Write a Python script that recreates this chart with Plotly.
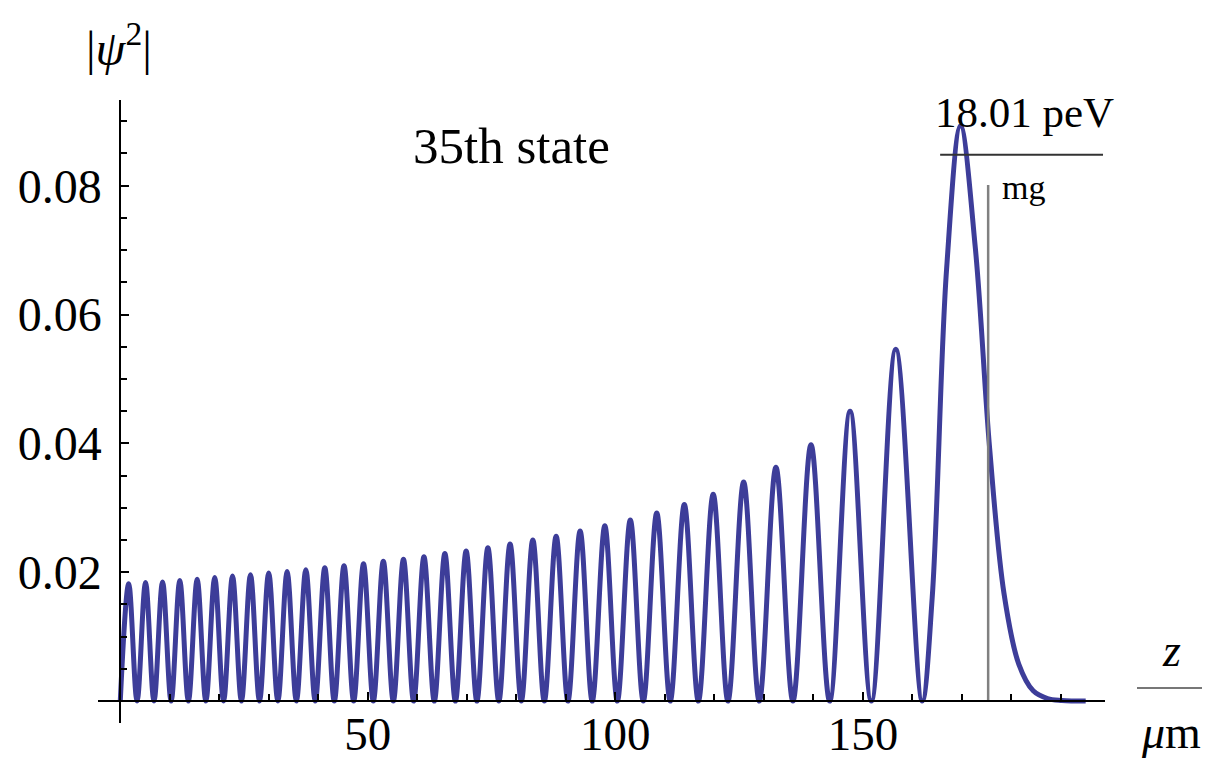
import plotly.graph_objects as go

# Nodes (zeros) of |psi|^2 along z (micrometres)
zeros_z = [0, 3.39, 6.81, 10.27, 13.76, 17.29, 20.86, 24.47, 28.12, 31.83, 35.57,
           39.38, 43.23, 47.14, 51.11, 55.15, 59.25, 63.43, 67.69, 72.03, 76.46,
           81.00, 85.65, 90.42, 95.33, 100.40, 105.64, 111.08, 116.77, 122.74,
           129.07, 135.86, 143.29, 151.70, 161.98]

# Interior maxima (position, height)
peak_z = [1.70, 5.10, 8.54, 12.02, 15.53, 19.08, 22.67, 26.30, 29.98, 33.70,
          37.48, 41.31, 45.19, 49.13, 53.13, 57.20, 61.34, 65.56, 69.86, 74.25,
          78.73, 83.33, 88.04, 92.88, 97.87, 103.02, 108.36, 113.93, 119.76,
          125.91, 132.43, 139.52, 147.41, 156.64]
peak_h = [0.0182, 0.0184, 0.0185, 0.0187, 0.0189, 0.0192, 0.0194, 0.0196, 0.0199,
          0.0201, 0.0204, 0.0207, 0.0210, 0.0213, 0.0217, 0.0220, 0.0224, 0.0229,
          0.0233, 0.0238, 0.0244, 0.0250, 0.0256, 0.0264, 0.0272, 0.0281, 0.0292,
          0.0305, 0.0321, 0.0340, 0.0363, 0.0398, 0.0450, 0.0546]

# Last lobe and evanescent tail (after the last node)
tail_z = [164.0, 166.9, 169.72, 172.7, 175.6, 178.5, 181.5, 184.4, 187.3, 190.2, 195.0]
tail_y = [0.0161, 0.0670, 0.0893, 0.0704, 0.0392, 0.0167, 0.0057, 0.0016, 0.0004, 0.0001, 0.0]

energy_label = "18.01 peV"
energy_level = 0.0848
energy_x = [165.6, 198.5]
mg_z = 175.3
mg_top = 0.0801

x_ticks = [50, 100, 150]
y_ticks = [0.02, 0.04, 0.06, 0.08]
y_ticktext = ["0.02", "0.04", "0.06", "0.08"]

XR = [-4.5, 198.9]
YR = [-0.0034, 0.0933]

# interleave nodes and maxima into one smooth curve
xs, ys = [], []
for i in range(len(peak_z)):
    xs += [zeros_z[i], peak_z[i]]
    ys += [0, peak_h[i]]
xs += [zeros_z[-1]] + tail_z
ys += [0] + tail_y

CURVE = "#3d3d99"
SERIF = "Liberation Serif"

fig = go.Figure()
fig.add_trace(go.Scatter(
    x=xs, y=ys, mode="lines",
    line=dict(color=CURVE, width=5, shape="spline", smoothing=1.0, simplify=False),
    hoverinfo="skip", showlegend=False))

# energy level line and mg line
fig.add_trace(go.Scatter(x=energy_x, y=[energy_level, energy_level], mode="lines",
                         line=dict(color="#333333", width=2), showlegend=False, hoverinfo="skip"))
fig.add_trace(go.Scatter(x=[mg_z, mg_z], y=[0, mg_top], mode="lines",
                         line=dict(color="#808080", width=2.5), showlegend=False, hoverinfo="skip"))

# page body adds an 8 px offset; reference pixel coordinates are compensated below
OFF = 8
L, R, T, B = 90, 105, 92, 42
W, H = 1210 - OFF, 765 - OFF
pw, ph = W - L - R, H - T - B

def px(xp):
    return (xp - OFF - L) / pw

def py(yp):
    return (H - B - (yp - OFF)) / ph

xpos = (0 - YR[0]) / (YR[1] - YR[0])
ypos = (0 - XR[0]) / (XR[1] - XR[0])

fig.update_layout(
    width=W, height=H,
    margin=dict(l=L, r=R, t=T, b=B),
    paper_bgcolor="white", plot_bgcolor="white",
    font=dict(family=SERIF, color="black"),
    xaxis=dict(range=XR, anchor="free", position=xpos, showgrid=False, zeroline=False,
               showline=True, linecolor="black", linewidth=2,
               tickmode="array", tickvals=x_ticks, ticks="inside", ticklen=8,
               tickwidth=2, tickcolor="black", ticklabelstandoff=-8,
               tickfont=dict(family=SERIF, size=47, color="black"),
               minor=dict(tickmode="linear", tick0=0, dtick=10, ticks="inside",
                          ticklen=6, tickwidth=2, tickcolor="black"),
               automargin=False),
    yaxis=dict(range=YR, anchor="free", position=ypos, showgrid=False, zeroline=False,
               showline=True, linecolor="black", linewidth=2,
               tickmode="array", tickvals=y_ticks, ticktext=y_ticktext,
               ticks="inside", ticklen=8, tickwidth=2, tickcolor="black",
               ticklabelstandoff=8,
               tickfont=dict(family=SERIF, size=48, color="black"),
               minor=dict(tickmode="linear", tick0=0, dtick=0.005, ticks="inside",
                          ticklen=6, tickwidth=2, tickcolor="black"),
               automargin=False),
)

ann = [
    dict(text="|<i>ψ</i><sup>2</sup>|", x=px(119), y=py(45), xref="paper", yref="paper",
         showarrow=False, font=dict(size=48, family=SERIF), xanchor="center", yanchor="middle"),
    dict(text="35th state", x=79.0, y=0.0862, xref="x", yref="y", showarrow=False,
         font=dict(size=51, family=SERIF), xanchor="center", yanchor="middle"),
    dict(text=energy_label, x=182.6, y=0.0913, xref="x", yref="y", showarrow=False,
         font=dict(size=43, family=SERIF), xanchor="center", yanchor="middle"),
    dict(text="mg", x=177.7, y=0.0797, xref="x", yref="y", showarrow=False,
         font=dict(size=34, family=SERIF), xanchor="left", yanchor="middle"),
    dict(text="<i>z</i>", x=px(1171), y=py(650), xref="paper", yref="paper",
         showarrow=False, font=dict(size=46, family=SERIF), xanchor="center", yanchor="middle"),
    dict(text="<i>μ</i>m", x=px(1171), y=py(732), xref="paper", yref="paper",
         showarrow=False, font=dict(size=46, family=SERIF), xanchor="center", yanchor="middle"),
]
fig.update_layout(annotations=ann)
fig.add_shape(type="line", xref="paper", yref="paper", x0=px(1137), x1=px(1209),
              y0=py(688), y1=py(688), line=dict(color="#777777", width=2))

fig.write_html("out.html")
